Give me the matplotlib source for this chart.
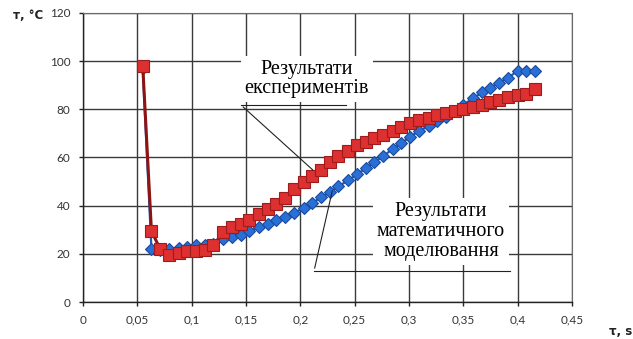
import matplotlib
matplotlib.use("Agg")
import matplotlib.pyplot as plt

# time, s (shared by both series)
t = [0.055, 0.063, 0.071, 0.079, 0.088, 0.096, 0.104, 0.112, 0.120, 0.129,
     0.137, 0.145, 0.153, 0.162, 0.170, 0.178, 0.186, 0.194, 0.203, 0.211,
     0.219, 0.227, 0.235, 0.244, 0.252, 0.260, 0.268, 0.276, 0.285, 0.293,
     0.301, 0.309, 0.318, 0.326, 0.334, 0.342, 0.350, 0.359, 0.367, 0.375,
     0.383, 0.391, 0.400, 0.408, 0.416]

# results of mathematical modelling (blue diamonds)
T_model = [97, 22, 21.5, 22, 22.5, 23, 23.5, 23.5, 24, 26,
           27, 28, 29.5, 31, 32.5, 34, 35.5, 37, 39, 41,
           43.5, 45.5, 48, 50.5, 53, 55.5, 58, 60.5, 63.5, 66,
           68.5, 71, 73, 75, 77, 79.5, 82, 84.5, 87, 89,
           91, 93, 96, 96, 96]

# experimental results (red squares)
T_exp = [98, 29.5, 22, 19.5, 20.5, 21, 21.3, 21.7, 23.5, 29,
         31, 32.5, 34, 36.5, 38.5, 40.5, 43, 47, 50, 52.5,
         55, 58, 60.5, 62.5, 65, 66.5, 68, 69.5, 71, 72.5,
         74.5, 75.5, 76.5, 77.5, 78.5, 79.5, 80.3, 81, 82, 83,
         84, 85, 86, 86.5, 88.5]

x_ticks = [0, 0.05, 0.1, 0.15, 0.2, 0.25, 0.3, 0.35, 0.4, 0.45]
x_labels = ["0", "0,05", "0,1", "0,15", "0,2", "0,25", "0,3", "0,35", "0,4", "0,45"]
y_ticks = [0, 20, 40, 60, 80, 100, 120]

fig = plt.figure(figsize=(6.33, 3.39), dpi=100)
fig.patch.set_facecolor("white")
ax = fig.add_axes([0.1311, 0.1091, 0.7725, 0.8526])

ax.plot(t, T_model, color="#1F5BC0", lw=1.6, marker="D", ms=6.5,
        mfc="#2A6FD6", mec="#1A4A9E", mew=0.8, zorder=3)
ax.plot(t, T_exp, color="#8E1414", lw=2.2, marker="s", ms=8,
        mfc="#DD3030", mec="#A01C1C", mew=0.8, zorder=4)

ax.set_xlim(0, 0.45)
ax.set_ylim(0, 120)
ax.set_xticks(x_ticks)
ax.set_xticklabels(x_labels)
ax.set_yticks(y_ticks)
ax.grid(True, color="#3a3a3a", lw=1.0, zorder=0)
ax.set_axisbelow(True)
for s in ["top", "right"]:
    ax.spines[s].set_color("#6a6a6a")
for s in ["left", "bottom"]:
    ax.spines[s].set_color("#222222")
    ax.spines[s].set_linewidth(1.0)
ax.tick_params(direction="out", length=3, width=1, color="#222222",
               labelsize=8.5, labelcolor="#333333", pad=6)
for lab in ax.get_xticklabels() + ax.get_yticklabels():
    lab.set_family("Lato")

fig.text(0.02, 0.955, "т, °С", fontsize=8.5, fontweight="bold", color="#222222",
         family="DejaVu Sans", ha="left", va="center")
fig.text(0.962, 0.002, "τ, s", fontsize=8.5, fontweight="bold", color="#222222",
         family="DejaVu Sans", ha="left", va="bottom")

serif = "Liberation Serif"
box = dict(boxstyle="square,pad=0.2", facecolor="white", edgecolor="none")

ax.text(0.206, 92.6, "Результати\nекспериментів", fontsize=14.5, family=serif,
        ha="center", va="center", linespacing=1.05, bbox=box, zorder=5)
ax.plot([0.1454, 0.242], [81.8, 81.8], color="#222222", lw=0.8, zorder=5)
ax.annotate("", xy=(0.2135, 54), xytext=(0.1454, 81.8),
            arrowprops=dict(arrowstyle="-", color="#222222", lw=0.8), zorder=5)

ax.text(0.3294, 29.4, "Результати\nматематичного\nмоделювання", fontsize=14.5,
        family=serif, ha="center", va="center", linespacing=1.08, bbox=box, zorder=5)
ax.plot([0.2126, 0.393], [12.9, 12.9], color="#222222", lw=0.8, zorder=5)
ax.annotate("", xy=(0.230, 47.3), xytext=(0.2126, 12.9),
            arrowprops=dict(arrowstyle="-", color="#222222", lw=0.8), zorder=5)

fig.savefig("out.png", dpi=100)
